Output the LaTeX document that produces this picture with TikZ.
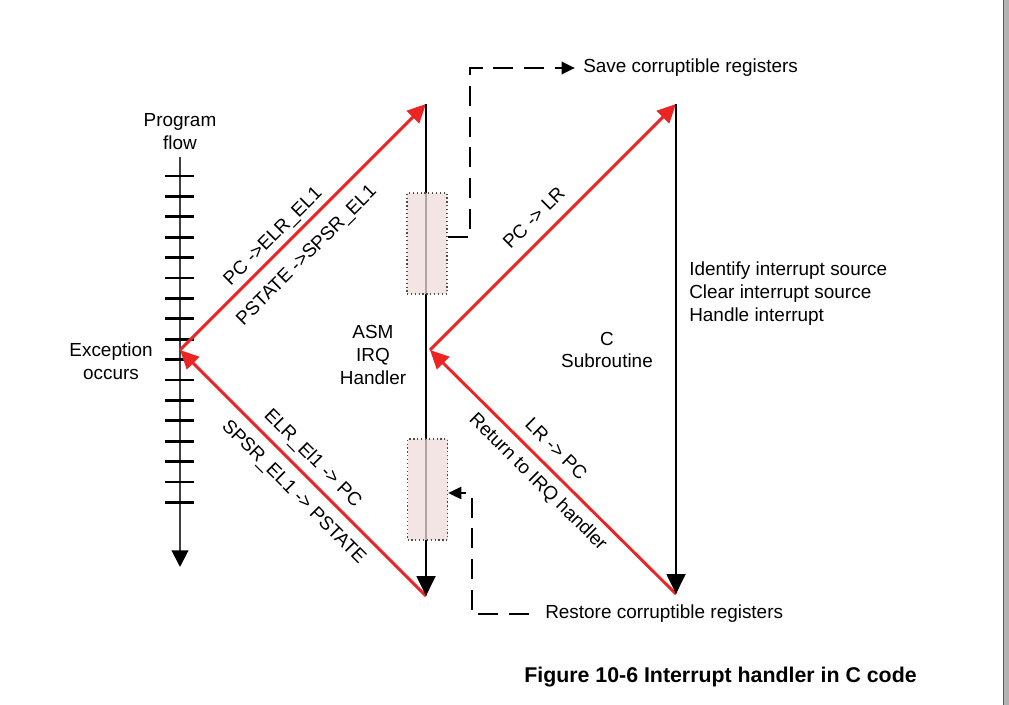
\documentclass[tikz,border=0pt]{standalone}
\usepackage{fontspec}
\setmainfont{Liberation Sans}
\usetikzlibrary{arrows.meta}
\definecolor{irqred}{RGB}{236,36,36}
\definecolor{regpink}{RGB}{240,220,220}
\newcommand{\lblfont}{\fontsize{14.2}{17.2}\selectfont}
\tikzset{
  lbl/.style={font=\lblfont, align=center, inner sep=0pt},
  redarr/.style={draw=irqred, line width=2.2pt, -{Triangle[length=14pt, width=13pt]}},
  blkarr/.style={draw=black, line width=2.2pt, -{Triangle[length=15pt, width=14pt]}},
  flowarr/.style={draw=black!75, line width=1.5pt, -{Triangle[length=12.5pt, width=12.5pt, fill=black, color=black]}},
  flowtick/.style={draw=black, line width=2.2pt},
  regbox/.style={draw=black!70, dotted, line width=0.9pt, fill=regpink, fill opacity=0.75, minimum width=30pt, minimum height=75.75pt, inner sep=0pt},
  dasharr/.style={draw=black, line width=2.1pt, dash pattern=on 15pt off 8pt, -{Triangle[length=10pt, width=9pt]}}
}

\begin{document}
\begin{tikzpicture}[x=0.75pt, y=-0.75pt]
  \useasboundingbox (0,0) rectangle (1009,705);
  % page edge
  \fill[black!30] (1003,0) rectangle (1009,705);
  \draw[black!65, line width=0.8pt] (1003.5,0) -- (1003.5,705);
  % program flow
  \coordinate (flowtop) at (180,157);
  \coordinate (flowbot) at (180,567);
  \draw[flowarr] (flowtop) -- (flowbot);
  \foreach \k in {0,...,16}
    \draw[flowtick] (165,{176+20.4*\k}) -- (194,{176+20.4*\k});
  % corners
  \coordinate (exc) at (180,350);
  \coordinate (asmtop) at (426,104);
  \coordinate (asmbot) at (426,596);
  \coordinate (cmid) at (430,350);
  \coordinate (ctop) at (676,104);
  \coordinate (cbot) at (676,594);
  % red transitions
  \draw[redarr] (exc) --
    node[lbl, sloped, pos=0.42, above=3pt] {PC ->ELR\_EL1}
    node[lbl, sloped, pos=0.45, below=10pt] {PSTATE ->SPSR\_EL1} (asmtop);
  \draw[redarr] (asmbot) --
    node[lbl, sloped, pos=0.51, above=5pt] {ELR\_El1 -> PC}
    node[lbl, sloped, pos=0.48, below=8pt] {SPSR\_EL1 -> PSTATE} (exc);
  \draw[redarr] (cmid) --
    node[lbl, sloped, pos=0.48, above=9pt] {PC -> LR} (ctop);
  \draw[redarr] (cbot) --
    node[lbl, sloped, pos=0.54, above=8pt] {LR -> PC}
    node[lbl, sloped, pos=0.51, below=6pt] {Return to IRQ handler} (cmid);
  % handlers
  \draw[blkarr] (asmtop) -- (asmbot);
  \draw[blkarr] (ctop) -- (cbot);
  \node[regbox] (regtop) at (427,243.5) {};
  \node[regbox] (regbot) at (427.5,489.5) {};
  % labels
  \node[lbl] (prog) at (180,132) {Program\\flow};
  \node[lbl] (excl) at (111,361) {Exception\\occurs};
  \node[lbl] (asm) at (373,355) {ASM\\IRQ\\Handler};
  \node[lbl] (csub) at (607,350) {C\\Subroutine};
  \node[lbl, align=left, anchor=west] (steps) at (689,294) {Identify interrupt source\\Clear interrupt source\\Handle interrupt};
  \node[lbl, anchor=west] (save) at (583,68) {Save corruptible registers};
  \node[lbl, anchor=west] (restore) at (545,614) {Restore corruptible registers};
  % register save and restore
  \coordinate (savebend) at (470,237);
  \coordinate (restbend) at (472,493);
  \draw[dasharr, shorten >=6pt] (regtop.east |- savebend) -- (savebend) |- (save.west);
  \draw[dasharr, shorten <=12pt] (restore.west) -| (restbend) -- (regbot.east |- restbend);
  % caption
  \node[font=\fontsize{16}{19}\selectfont\bfseries, inner sep=0pt] (cap) at (720.5,677) {Figure 10-6 Interrupt handler in C code};
\end{tikzpicture}
\end{document}
